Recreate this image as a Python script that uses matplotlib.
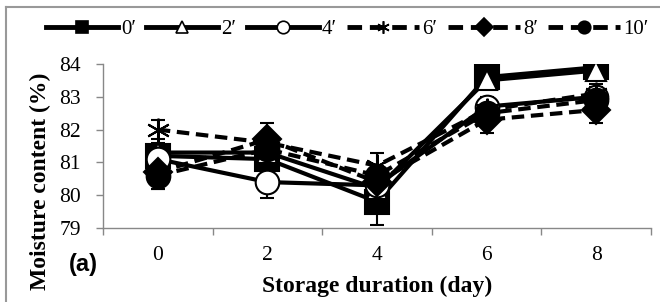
import matplotlib
matplotlib.use("Agg")
import matplotlib.pyplot as plt
from matplotlib.lines import Line2D
import numpy as np

# Datos
dias = ["0", "2", "4", "6", "8"]
series = ["0′", "2′", "4′", "6′", "8′", "10′"]

h0 = [81.2, 81.1, 79.8, 83.6, 83.9]
h2 = [81.3, 81.3, 80.2, 83.5, 83.8]
h4 = [81.1, 80.4, 80.3, 82.7, 83.0]
h6 = [82.0, 81.6, 80.9, 82.6, 83.1]
h8 = [80.7, 81.7, 80.4, 82.3, 82.6]
h10 = [80.6, 81.4, 80.6, 82.5, 82.9]

e0 = [0.3, 0.3, 0.7, 0.2, 0.2]
e2 = [0.3, 0.3, 0.3, 0.2, 0.2]
e4 = [0.3, 0.5, 0.3, 0.3, 0.3]
e6 = [0.3, 0.3, 0.4, 0.3, 0.3]
e8 = [0.5, 0.5, 0.3, 0.4, 0.4]
e10 = [0.4, 0.4, 0.3, 0.3, 0.3]

valores = [h0, h2, h4, h6, h8, h10]
errores = [e0, e2, e4, e6, e8, e10]
marcadores = ["s", "^", "o", (6, 2, 0), "D", "o"]
relleno = ["black", "white", "white", "black", "black", "black"]
guion = (0, (3, 1.6))
estilos = ["-", "-", "-", guion, guion, guion]
tam = [17, 15, 17, 17, 14, 17]

plt.rcParams["font.family"] = "Liberation Serif"

fig = plt.figure(figsize=(6.6, 3.02), dpi=100)
ax = fig.add_axes([103 / 660, 1 - 228 / 302, (651 - 103) / 660, (228 - 64) / 302])

x = np.arange(len(dias))
for v, e, m, fc, ls, ms in zip(valores, errores, marcadores, relleno, estilos, tam):
    ax.errorbar(x, v, yerr=e, color="black", ecolor="black", elinewidth=1.5,
                capsize=5, capthick=1.5, linestyle=ls, linewidth=3,
                marker=m, markersize=ms, markerfacecolor=fc,
                markeredgecolor="black", markeredgewidth=1.5)

ax.set_xlim(-0.5, len(dias) - 0.5)
ax.set_ylim(79, 84)
ax.set_xticks(x)
ax.set_xticklabels(dias)
ax.set_xticks(np.arange(len(dias) + 1) - 0.5, minor=True)
ax.tick_params(axis="x", which="major", length=0, pad=13, labelsize=15.5)
ax.tick_params(axis="x", which="minor", length=5, color="#888888", width=1)
ax.tick_params(axis="y", length=5, color="#888888", width=1, pad=11, labelsize=15.5)
ax.set_yticks([79, 80, 81, 82, 83, 84])
for s in ["top", "right"]:
    ax.spines[s].set_visible(False)
for s in ["left", "bottom"]:
    ax.spines[s].set_color("#888888")
    ax.spines[s].set_linewidth(1)

fig.text(40 / 660, 1 - 181 / 302, "Moisture content (%)", rotation=90,
         ha="center", va="center", fontsize=17, fontweight="bold")
fig.text(377 / 660, 1 - 286 / 302, "Storage duration (day)",
         ha="center", va="center", fontsize=17, fontweight="bold")
fig.text(83 / 660, 1 - 265 / 302, "(a)", ha="center", va="center",
         fontsize=17, fontweight="bold", family="Liberation Sans")

# Leyenda
handles = []
for m, fc, ls in zip(marcadores, relleno, estilos):
    handles.append(Line2D([], [], color="black", linestyle=ls, linewidth=3.5,
                          marker=m, markersize=9, markerfacecolor=fc,
                          markeredgecolor="black", markeredgewidth=1.2))
fig.legend(handles, series, loc="center left", bbox_to_anchor=(46 / 660, 1 - 29 / 302),
           ncol=6, frameon=False, fontsize=15, handlelength=3.45, handletextpad=0.15,
           columnspacing=0.5, borderaxespad=0, borderpad=0)

# Marco gris
fig.add_artist(Line2D([6 / 660, 6 / 660], [0, 1 - 7 / 302], color="#999999", linewidth=1.5))
fig.add_artist(Line2D([6 / 660, 1], [1 - 7 / 302, 1 - 7 / 302], color="#999999", linewidth=1.5))

fig.savefig("out.png", dpi=100)
